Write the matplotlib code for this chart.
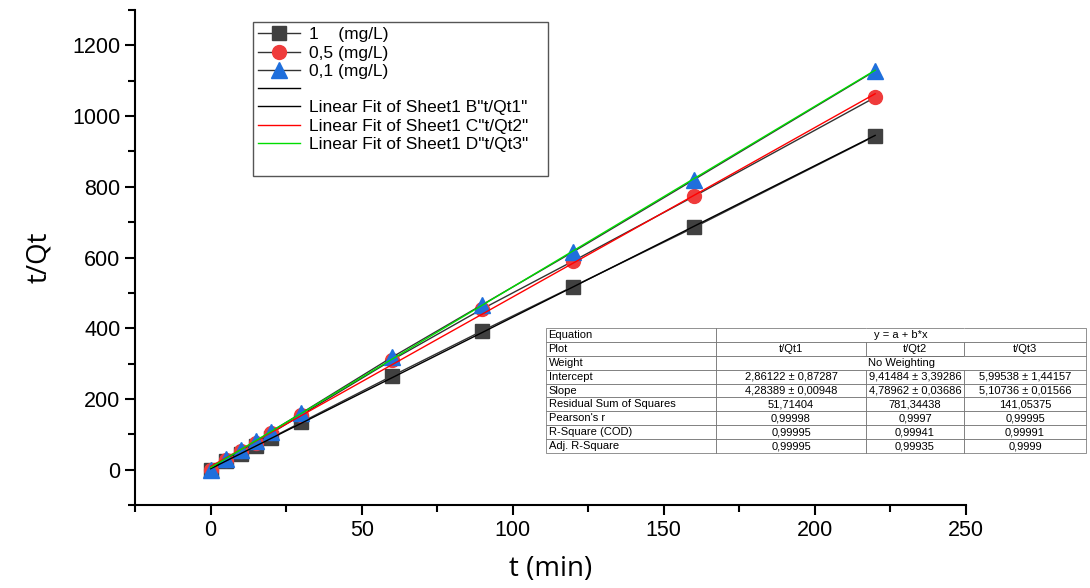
import numpy as np
import matplotlib
matplotlib.use('Agg')
import matplotlib.pyplot as plt
from matplotlib.lines import Line2D

plt.rcParams['font.family'] = ['Liberation Sans', 'DejaVu Sans']

# data
t = [0, 5, 10, 15, 20, 30, 60, 90, 120, 160, 220]
tqt1 = [0, 24, 45, 66, 90, 134, 265, 393, 518, 685, 944]
tqt2 = [0, 28, 52, 75, 103, 155, 310, 455, 590, 773, 1053]
tqt3 = [0, 30, 55, 80, 108, 160, 318, 467, 616, 820, 1128]

labels = ['1    (mg/L)', '0,5 (mg/L)', '0,1 (mg/L)']
fit_labels = ['Linear Fit of Sheet1 B"t/Qt1"', 'Linear Fit of Sheet1 C"t/Qt2"',
              'Linear Fit of Sheet1 D"t/Qt3"']
intercepts = [2.86122, 9.41484, 5.99538]
slopes = [4.28389, 4.78962, 5.10736]

col_plot = ['t/Qt1', 't/Qt2', 't/Qt3']
intercept_txt = ['2,86122 ± 0,87287', '9,41484 ± 3,39286', '5,99538 ± 1,44157']
slope_txt = ['4,28389 ± 0,00948', '4,78962 ± 0,03686', '5,10736 ± 0,01566']
rss_txt = ['51,71404', '781,34438', '141,05375']
pearson_txt = ['0,99998', '0,9997', '0,99995']
r2_txt = ['0,99995', '0,99941', '0,99991']
adj_txt = ['0,99995', '0,99935', '0,9999']

fig = plt.figure(figsize=(10.9, 5.88), dpi=100)
ax = fig.add_axes([0.124, 0.141, 0.762, 0.842])

ax.plot(t, tqt1, '-s', color='#333333', mfc='#404040', mec='#404040', ms=10, lw=1, label=labels[0])
ax.plot(t, tqt2, '-o', color='#333333', mfc='#ef3b3b', mec='#ef3b3b', ms=10, lw=1, label=labels[1])
ax.plot(t, tqt3, '-^', color='#333333', mfc='#1f6fdc', mec='#1f6fdc', ms=11, lw=1, label=labels[2])

xf = np.array([0, 220])
fit_colors = ['black', 'red', '#00dd00']
fit_lines = []
for a, b, c, lab in zip(intercepts, slopes, fit_colors, fit_labels):
    l, = ax.plot(xf, a + b * xf, color=c, lw=1, label=lab)
    fit_lines.append(l)

ax.set_xlim(-25, 250)
ax.set_ylim(-100, 1300)
ax.set_xticks([0, 50, 100, 150, 200, 250])
ax.set_xticks(np.arange(-25, 251, 25), minor=True)
ax.set_yticks([0, 200, 400, 600, 800, 1000, 1200])
ax.set_yticks(np.arange(-100, 1301, 100), minor=True)
ax.tick_params(which='major', direction='out', length=7, width=1.5, labelsize=15.5)
ax.tick_params(which='minor', direction='out', length=5, width=1.5)
for s in ['top', 'right']:
    ax.spines[s].set_visible(False)
for s in ['left', 'bottom']:
    ax.spines[s].set_linewidth(1.5)
ax.set_xlabel('t (min)', fontsize=20, family=['Open Sans', 'DejaVu Sans'], labelpad=10)
ax.set_ylabel('t/Qt', fontsize=20, family=['Open Sans', 'DejaVu Sans'], labelpad=14)

h, l = ax.get_legend_handles_labels()
blank = Line2D([], [], color='black', lw=1)
empty = Line2D([], [], color='none')
handles = h[:3] + [blank] + fit_lines + [empty]
# trailing spaces widen the box like the reference
leg_labels = labels + [''] + fit_labels + ['                                                ']
leg = ax.legend(handles, leg_labels, loc='upper left', bbox_to_anchor=(253 / 1090, 1 - 22 / 588),
                bbox_transform=fig.transFigure, fontsize=12.5, numpoints=1,
                handlelength=2.4, handletextpad=0.5, labelspacing=0.18, borderpad=0.3,
                borderaxespad=0, fancybox=False, framealpha=1, edgecolor='#555555')

# fit table
tax = fig.add_axes([546 / 1090, 1 - 453 / 588, 540 / 1090, 125 / 588])
tax.axis('off')
cells = [['Equation', '', '', ''],
         ['Plot'] + col_plot,
         ['Weight', '', '', ''],
         ['Intercept'] + intercept_txt,
         ['Slope'] + slope_txt,
         ['Residual Sum of Squares'] + rss_txt,
         ["Pearson's r"] + pearson_txt,
         ['R-Square (COD)'] + r2_txt,
         ['Adj. R-Square'] + adj_txt]
widths = [170 / 540, 150 / 540, 98 / 540, 122 / 540]
tbl = tax.table(cellText=cells, colWidths=widths, bbox=[0, 0, 1, 1], cellLoc='center')
tbl.auto_set_font_size(False)
for (r, c), cell in tbl.get_celld().items():
    cell.set_fontsize(8)
    cell.set_linewidth(0.5)
    cell.set_edgecolor('#666666')
    cell.PAD = 0.015
    if c == 0:
        cell.set_text_props(ha='left')
        cell._loc = 'left'
    if r in (0, 2) and c > 0:
        cell.visible_edges = {1: 'BTL', 2: 'BT', 3: 'BTR'}[c]
nrow = len(cells)
x_mid = (170 + 370 / 2) / 540
tax.text(x_mid, 1 - 0.5 / nrow, 'y = a + b*x', ha='center', va='center', fontsize=8)
tax.text(x_mid, 1 - 2.5 / nrow, 'No Weighting', ha='center', va='center', fontsize=8)

fig.savefig('out.png', dpi=100)
